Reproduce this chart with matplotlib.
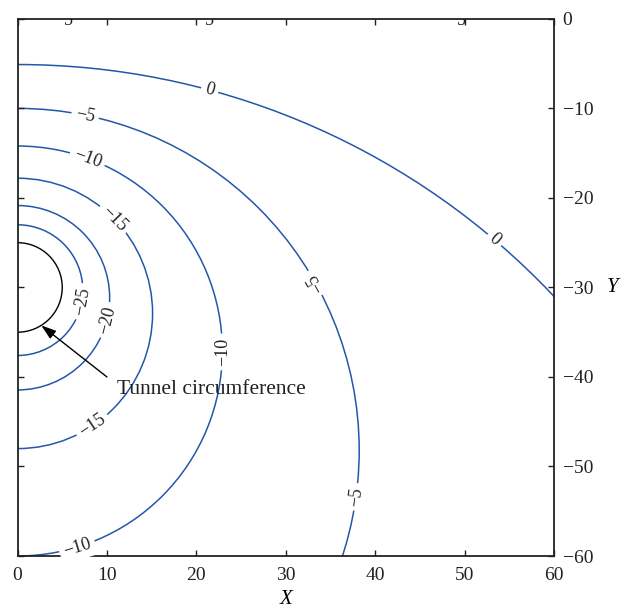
import numpy as np
import matplotlib
matplotlib.use('Agg')
import matplotlib.pyplot as plt
from matplotlib.patches import Arc

plt.rcParams['font.family'] = ['Liberation Serif', 'DejaVu Serif']

# every contour of the section is a circle centred on the axis x = 0
levels = [0, -5, -10, -15, -20, -25]
centre_y = [-87.5, -48.2, -37.1, -32.9, -31.15, -30.3]
radius = [82.4, 38.2, 22.9, 15.1, 10.3, 7.3]

# contour labels: level, rough spot on the line, text direction
lab_level = [0, 0, -5, -5, -5, -10, -10, -10, -15, -15, -20, -25]
lab_x = [21.5, 53.4, 7.6, 33.6, 37.9, 7.9, 22.8, 6.6, 11.1, 8.5, 10.1, 7.2]
lab_y = [-7.9, -24.6, -10.6, -29.3, -53.4, -15.4, -37.2, -58.8, -22.0, -45.6, -33.7, -31.6]
lab_rot = [-13, -42, -14, 118, 82, -20, 88, 20, -42, 45, 80, 76]

# level 5 sits on the upper edge, only its labels peek in
top_x = [5.7, 21.5, 49.6]

tunnel_r = 5.0
tunnel_c = (0.0, -30.0)

blue = '#2457ab'
ink = '#222222'

fig = plt.figure(figsize=(6.37, 6.09), dpi=100)
ax = fig.add_axes([0.0275, 0.087, 0.8425, 0.882])

for cy, r in zip(centre_y, radius):
    ax.add_patch(Arc((0, cy), 2 * r, 2 * r, theta1=-90, theta2=90, color=blue, lw=1.1))

ax.add_patch(Arc(tunnel_c, 2 * tunnel_r, 2 * tunnel_r, theta1=-90, theta2=90, color='black', lw=1.0))

for lev, x, y, rot in zip(lab_level, lab_x, lab_y, lab_rot):
    i = levels.index(lev)
    phi = np.arctan2(y - centre_y[i], x)
    px = radius[i] * np.cos(phi)
    py = centre_y[i] + radius[i] * np.sin(phi)
    tang = np.degrees(phi) + 90
    # keep the tangent direction that reads the same way as the printed label
    cand = [tang + k * 180 for k in range(-2, 3)]
    tang = min(cand, key=lambda c: abs(c - rot))
    s = '%d' % lev
    s = s.replace('-', '\u2212')
    ax.text(px, py, s, fontsize=13, rotation=tang, ha='center', va='center', rotation_mode='anchor',
            color=ink, bbox=dict(boxstyle='square,pad=0.24', fc='white', ec='none'), zorder=3)

for x in top_x:
    ax.text(x, -0.65, '5', fontsize=13, ha='center', va='baseline', color=ink, clip_on=True, zorder=3)

a = np.deg2rad(-58)
tip = (tunnel_c[0] + tunnel_r * np.cos(a), tunnel_c[1] + tunnel_r * np.sin(a))
ax.annotate('', xy=tip, xytext=(10.0, -40.0),
            arrowprops=dict(arrowstyle='-|>,head_length=0.9,head_width=0.3', color='black', lw=1.0,
                            shrinkA=0, shrinkB=0))
ax.text(11.1, -41.4, 'Tunnel circumference', fontsize=15.5, ha='left', va='center', color=ink)

ax.set_xlim(0, 60)
ax.set_ylim(-60, 0)
ax.set_xticks(np.arange(0, 61, 10))
ax.set_yticks(np.arange(-60, 1, 10))
ax.tick_params(direction='in', length=4, width=1.0, top=True, right=True, left=True, bottom=True,
               labelleft=False, labelright=True, labelsize=14, colors=ink, pad=6)
ax.tick_params(axis='x', pad=8)
for sp in ax.spines.values():
    sp.set_linewidth(1.3)
    sp.set_color(ink)

ax.set_xlabel('X', fontsize=15, style='italic', labelpad=4)
ax.yaxis.set_label_position('right')
ax.set_ylabel('Y', fontsize=15, style='italic', rotation=0, labelpad=14, va='center')

fig.savefig('out.png', dpi=100)
